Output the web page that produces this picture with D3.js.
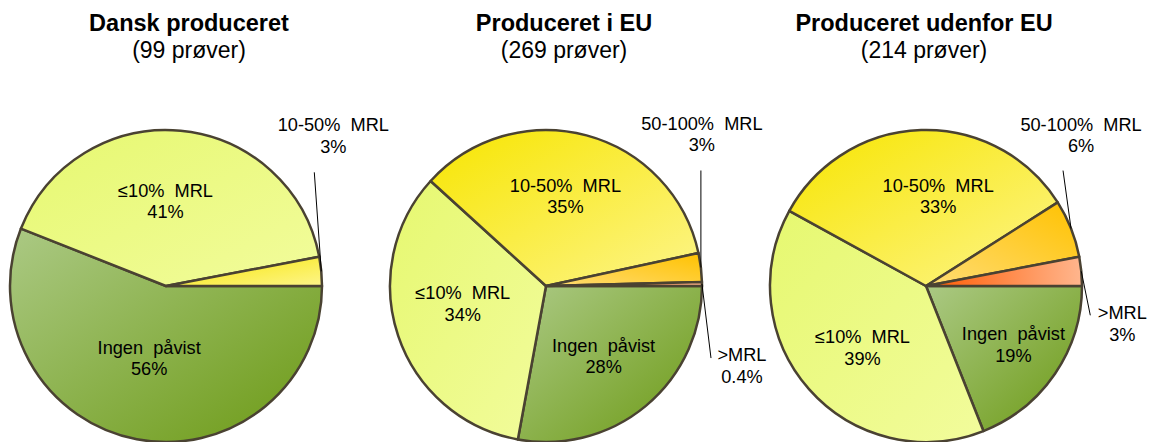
<!DOCTYPE html>
<html>
<head>
<meta charset="utf-8">
<script src="https://cdn.jsdelivr.net/npm/d3@7"></script>
<style>
  body { margin: 0; background: #ffffff; }
  svg text { font-family: "Liberation Sans", Arial, sans-serif; fill: #000; white-space: pre; }
  .title { font-weight: bold; font-size: 23.5px; }
  .subtitle { font-size: 23px; }
  .label { font-size: 18.2px; }
  .slice { stroke: #4a4232; stroke-width: 2.5; stroke-linejoin: round; }
  .leader { stroke: #000; stroke-width: 1; fill: none; }
</style>
</head>
<body>
<svg id="chart" width="1150" height="442"></svg>
<script>
// -------------------------------------------------------------------------- //
//                                 DATA                                       //
// -------------------------------------------------------------------------- //

var charts       = ["Dansk produceret", "Produceret i EU", "Produceret udenfor EU"];
var sampleCounts = [99, 269, 214];
var categories   = ["Ingen påvist", "≤10% MRL", "10-50% MRL", "50-100% MRL", ">MRL"];
var danskValues  = [56, 41, 3, 0, 0];
var euValues     = [28, 34, 35, 3, 0.4];
var nonEuValues  = [19, 39, 33, 6, 3];
var seriesValues = [danskValues, euValues, nonEuValues];

// -------------------------------------------------------------------------- //
//                                LAYOUT                                      //
// -------------------------------------------------------------------------- //

var width = 1150, height = 442;
var radius = 156, cy = 286, labelRadius = 90;

// where each title is centred, relative to its pie
var titleShift = [23, 18, -2];

// small nudges of the inside labels, away from the centroid
var insideNudge = [
  { "Ingen påvist": [0, -16], "≤10% MRL": [-9, 5] },
  { "Ingen påvist": [0, 1], "≤10% MRL": [2, -11], "10-50% MRL": [-4, -3] },
  { "Ingen påvist": [13, 8], "≤10% MRL": [4, 2], "10-50% MRL": [15, 0] }
];

// outside labels: label anchor and leader end, relative to the arc point
var outsideLabels = [
  { "10-50% MRL": { label: [12, -140], leader: [-7, -99] } },
  { "50-100% MRL": { label: [1, -138], leader: [0, -97] },
    ">MRL":        { label: [40, 77],   leader: [9, 74] } },
  { "50-100% MRL": { label: [10, -98], leader: [-8, -58] },
    ">MRL":        { label: [41, 48],   leader: [9, 44] } }
];

// gradient per category: [from colour, to colour, x1, y1, x2, y2]
var gradients = {
  "Ingen påvist": ["#abc984", "#6c9a14", 0, 0, 1, 1],
  "≤10% MRL":     ["#e6f870", "#f2fc9c", 0, 0, 1, 1],
  "10-50% MRL":   ["#f7e500", "#fdf58a", 0, 0, 1, 1],
  "50-100% MRL":  ["#ffdc74", "#ffc200", 0, 1, 1, 0],
  ">MRL":         ["#ff5a00", "#ffb68e", 0, 0, 1, 0]
};

var lineGap = 21.5;

var svg = d3.select("#chart");

// define the gradients
var defs = svg.append("defs");
categories.forEach(function (c, i) {
  var g = gradients[c];
  var grad = defs.append("linearGradient")
    .attr("id", "grad" + i)
    .attr("x1", g[2]).attr("y1", g[3])
    .attr("x2", g[4]).attr("y2", g[5]);
  grad.append("stop").attr("offset", "0%").attr("stop-color", g[0]);
  grad.append("stop").attr("offset", "100%").attr("stop-color", g[1]);
});

// pie centres
var x = d3.scalePoint().domain(charts).range([166, 926]);

var pie = d3.pie()
  .sort(null)
  .value(function (d) { return d.value; })
  .startAngle(Math.PI / 2)
  .endAngle(Math.PI / 2 + 2 * Math.PI);

var arc = d3.arc().innerRadius(0).outerRadius(radius);
var labelArc = d3.arc().innerRadius(labelRadius).outerRadius(labelRadius);

function shown (c) { return c.replace(" ", "  "); }
function pct (v) { return v + "%"; }

function arcPoint (d) {
  var a = (d.startAngle + d.endAngle) / 2;
  return [radius * Math.sin(a), -radius * Math.cos(a)];
}

function twoLines (g, cx, y1, first, second) {
  var t = g.append("text").attr("class", "label").attr("text-anchor", "middle");
  t.append("tspan").attr("x", cx).attr("y", y1).text(first);
  t.append("tspan").attr("x", cx).attr("y", y1 + lineGap).text(second);
}

charts.forEach(function (name, ci) {
  var data = categories.map(function (c, i) {
    return { cat: c, idx: i, value: seriesValues[ci][i] };
  }).filter(function (d) { return d.value > 0; });

  var cx = x(name);

  // titles
  svg.append("text").attr("class", "title")
    .attr("text-anchor", "middle")
    .attr("x", cx + titleShift[ci]).attr("y", 31)
    .text(name);
  svg.append("text").attr("class", "subtitle")
    .attr("text-anchor", "middle")
    .attr("x", cx + titleShift[ci]).attr("y", 57.5)
    .text("(" + sampleCounts[ci] + " prøver)");

  var g = svg.append("g").attr("transform", "translate(" + cx + "," + cy + ")");
  var arcs = pie(data);

  // slices
  g.selectAll("path.slice")
    .data(arcs)
    .enter().append("path")
    .attr("class", "slice")
    .attr("fill", function (d) { return "url(#grad" + d.data.idx + ")"; })
    .attr("d", arc);

  // labels
  arcs.forEach(function (d) {
    var out = outsideLabels[ci][d.data.cat];
    if (out) {
      var p = arcPoint(d);
      var lx = p[0] + out.label[0], ly = p[1] + out.label[1];
      twoLines(g, lx, ly, shown(d.data.cat), pct(d.data.value));
      g.append("line").attr("class", "leader")
        .attr("x1", p[0]).attr("y1", p[1])
        .attr("x2", p[0] + out.leader[0]).attr("y2", p[1] + out.leader[1]);
    } else {
      var c = labelArc.centroid(d);
      var n = insideNudge[ci][d.data.cat] || [0, 0];
      twoLines(g, c[0] + n[0], c[1] + n[1] - 4.5, shown(d.data.cat), pct(d.data.value));
    }
  });
});
</script>
</body>
</html>
